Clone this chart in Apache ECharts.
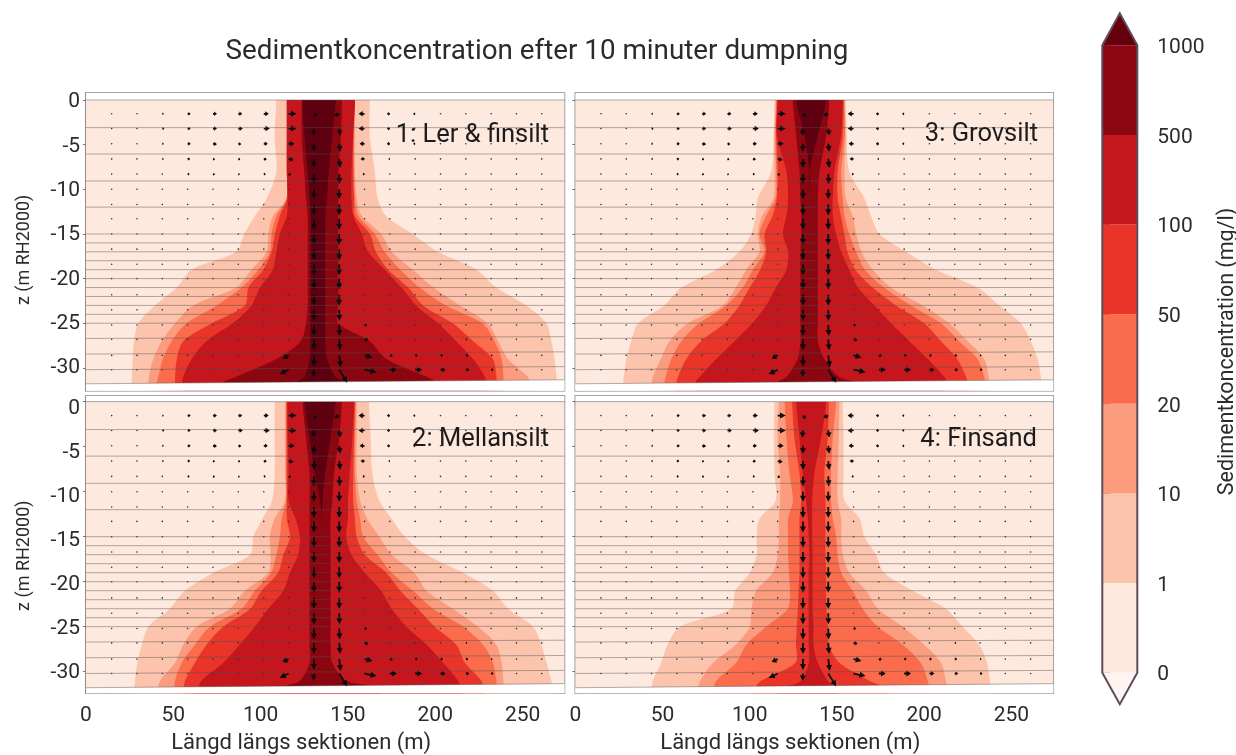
<!DOCTYPE html>
<html><head><meta charset="utf-8">
<style>html,body{margin:0;padding:0;background:#fff}#c{width:1236px;height:755px}</style>
<script src="https://cdn.jsdelivr.net/npm/echarts@6/dist/echarts.min.js"></script>
</head><body><div id="c"></div>
<script>
const titleText = 'Sedimentkoncentration efter 10 minuter dumpning';
const panelNames = ['1: Ler & finsilt','3: Grovsilt','2: Mellansilt','4: Finsand'];
const xTicks = [0,50,100,150,200,250];
const zTicks = [0,-5,-10,-15,-20,-25,-30];
const cbLabels = ['0','1','10','20','50','100','500','1000'];
const cbSteps = [0,1,2,3,4,5,6,7];
const cbColors = ['#fee9de','#fcc3ad','#fc9c7e','#fb6c4c','#e83429','#c4161c','#8a0711'];
const levelColors = ['#fcc3ad','#fc9c7e','#fb6c4c','#e83429','#c4161c','#8a0711','#5f0010'];
const domainColor = '#fee9de';
const underColor = '#fff5f0';
const overColor = '#67000d';
const rowZ = [0,-4,-8,-11,-13,-15,-17,-19,-21,-23,-25,-27,-29,-31,-32];

const left1 = [[109,115,115,115,115,123.5,124],[108,115,115,115,115,123.5,125],[109,115,115,115,115,125,127],[103.5,114.9,115,115,115.5,126,128],[96.7,107,109,111,115,127,128.5],[90.6,104.4,106.3,108.2,111,127,128.5],[86,103.4,105.3,106.3,109,127,128.5],[60.5,94.8,98.6,101.5,107,127,128.5],[52,86,89,93,99.6,127,128.5],[39.5,61.4,74.8,91,94.8,127,128.5],[30,51,57.6,72,84,126,128.5],[27.5,43.3,49,55.7,69,123,128.5],[26.7,38.5,44,52,60.5,109,128],[26.3,36,41.4,51,55.7,86,125],[26,35.7,40,51,55,76,118]];
const right1 = [[162.5,154,154,154,154,146.5,143],[162.5,154,153.5,153,153,146,141],[165.4,154,153.5,153,152,144.5,139],[167,155,154,153.5,152,144.4,138],[172,158,156,154,153,144.4,137],[187,169,165.4,162.6,158,144.4,137],[201.6,175,171,166,161.6,144.4,137],[223.6,187,180,173,171,144.4,137],[235,199,191,184.5,180.6,144.4,137],[252,214,206,193,189,144.4,137],[263.6,230,227,210,201.6,144.4,137],[266.5,236,234,221.7,212,162.5,137],[268.4,241.7,238,233,221.7,172,138],[269.4,253,239,235,228.4,195,143],[270,254.5,239.3,235.4,229.3,202.6,150]];
const left3 = [[114.2,114.8,115.2,115.6,116,124.7,126.6],[113.6,114.2,114.6,115.2,115.5,126.6,131.4],[112.3,114.2,115.2,116,121,128.5,134.2],[104.6,113.6,114.8,115.5,122,129,134.2],[103.3,107,109.4,113,121,129.5,134.2],[100.8,104.6,105.6,108.5,119,129.5,134.2],[94,105.6,108.5,109.4,122,129,134.2],[80.8,98,101.8,106,121,129,134.2],[60.8,92,96,100,115,129,134.2],[51,84.6,86.5,94,109.4,129,134.2],[36,64.6,71,85.6,101.4,129,134.2],[32,54,60.8,72,91.3,129,134.2],[29.3,49,55,63.6,80.8,127.5,134.2],[27.8,44.5,51.8,58.9,71.3,121,134.2],[27.4,43.6,51,57.6,67.8,113.2,134.2]];
const right3 = [[155,154.6,154.2,153.8,153.3,145.6,143.8],[155.6,155,154.5,153.3,152.3,143.8,139],[157,154.3,152.4,150.4,148.5,140,134.2],[165.7,155,153.3,150.4,147.6,139,134.2],[169.5,159,154.3,152.3,147.6,139,134.2],[174.3,161,157,154.2,149.5,139,134.2],[189.6,164,161,156,152.4,139,134.2],[206.7,170.5,166,160.5,157,139,134.2],[230.6,181,177,170.5,162,139,134.2],[243,199,192.4,183.8,171.4,139,134.2],[255.4,214.4,209.6,200,181,139,134.2],[261,225,220,209.6,191.5,139,134.2],[265,234.4,230.6,219,202,142.8,134.2],[266.8,237,234.4,224,211.5,151,134.2],[267.4,237.6,235.4,225.4,213.4,164.7,134.2]];
const left2 = [[108,114,114.5,115,115.2,124,125],[108,114,114.5,115,115.5,126,128],[108,114,114.5,115,116,128,131],[106.5,114,114.5,115,116,128,134],[101,108,112,115,120,128,135],[95.8,105.3,111,116.8,122.5,128,135],[94,105.7,109,113,121.5,128,135],[73,104.4,106,110,116.8,128,135],[56.7,91,96.7,100.5,113,128,135],[48,82.4,89,94,104.4,128,135],[35.7,63.3,71,78.6,96.7,128,135],[32,55.7,62.4,69,88,128,135],[29.4,51,54.8,62.4,78.6,128,135],[28,42.4,51,56.7,66,122.5,135],[27.5,41.4,50.6,56,64.3,111,135]];
const right2 = [[162,155,154.5,154,153.5,146.5,143],[163,155,154,153.5,152.5,145,140],[164,155,154,153,151,142,137],[168,157,155,153,150,141,135.5],[175,161,157,154,150,140,135],[182.6,168,158.7,155,149,140,135],[195,175,167,159.7,152,140,135],[216,188,175,172,159.7,140,135],[233,195,187.3,180,169,140,135],[241.7,210,198.8,190,175,140,135],[256,224.5,216,199.7,183.5,140,135],[260.8,235,227.4,212,195,140,135],[263.7,238,233,217,204.5,141,135],[266.5,239,235,226.4,213,149,135],[267.5,239.2,235.4,227.8,215,168,135]];
const left4 = [[114.2,116.7,120,124.3,126.6],[113.8,116,121,125.6,128.5],[114.2,117.4,122.8,128.5,130.4],[114.8,117.4,124.7,129.5,132.3],[105.6,116.7,122,128.5,133.3],[104,116.7,122,128.5,133.8],[104,116,122,128.5,134.2],[100,113.2,122.5,128.5,133.8],[91.7,103.7,123,128,133.8],[89.4,101,121.8,127.6,133.8],[60,100,109.4,127,133.8],[52.8,92,98,126.5,133.8],[49.3,79,92.2,126.2,133.8],[44.5,71.6,80.8,106.6,129.4],[43.6,70.3,79.3,102.7,119]];
const right4 = [[153.3,151.4,149.5,145.3,143.8],[153.7,151,147.6,144.7,140.9],[153.7,150.4,146.6,142.8,137],[154.3,150.4,146.6,143.4,135.8],[163,152.4,147.6,143.4,135.8],[165.7,152.4,149.5,143.4,135.8],[172.4,153.3,150.4,143.4,136],[177,157,152.4,143.8,136],[193.4,166.7,159,143.8,136],[212.4,173.4,164.7,144,136],[222,187.7,173.4,144.7,136.5],[231.5,200,187.7,145.3,136.5],[236,209.6,198,151.4,139],[237.6,212.4,202,168.6,144.7],[238,213.4,203,178,149.5]];

const layerZLeft  = [0,-3.1,-6.05,-9.07,-12,-15,-16,-17,-18,-19,-20,-21,-22,-23,-24,-25,-26.7,-28.45,-30.2,-31.78];
const layerZRight = [0,-3.1,-6.05,-9.07,-12,-15,-16,-17,-18,-19,-20,-21,-22,-23,-24,-24.95,-26.5,-28.2,-29.85,-31.33];
const flowX = [14.7,29.2,43.7,58.2,72.7,87.2,101.8,116,130.5,145,159.5,174,188.5,203,217.5,232,246.5,261];
const flowZ = [-1.55,-3.2,-4.9,-6.6,-8.3,-10,-11.7,-13.3,-15,-16.7,-18.4,-20,-21.8,-23.5,-25.2,-26.8,-28.6,-30.2];
const flowU = [
[.5,.7,1.5,3,4,4,5,8,3,-5,-6,-3,-2,-1,-.5,-.5,-.5,-.5],
[.5,1,2,3,4,4.5,6,8,-.5,1,-6,-3,-2,-1,-.5,-.5,-.5,-.5],
[.5,1,1.5,3,4,3,4,6,0,1,-5,-3,-2,-1,-.5,-.5,-.5,-.5],
[.5,1,1.5,2.5,2,2,3,5,0,1,-4,-1.5,-1,-.7,-.5,-.5,-.5,-.5],
[.8,.5,1,2,2,1.5,2,2.5,0,.5,-2,-1,-1,-.5,-.5,-.5,-.5,-.5],
[.8,.8,.5,1,1,1,1,.8,0,0,-1,-.8,-.8,-.8,-.8,-.8,-.8,-.8],
[.8,.8,.8,.5,.5,.5,.8,.8,0,0,-.8,-.8,-.8,-.8,-.8,-.8,-.8,-.8],
[.8,.8,.8,.8,.8,.5,.8,.8,0,0,.8,.8,.8,.8,.8,.8,.8,.8],
[.8,.8,.8,.8,.8,.8,.8,.8,0,0,.8,.8,.8,.8,.8,.8,.8,.8],
[.8,.8,.8,.8,.8,.8,.8,.8,0,0,.8,.8,.8,.8,.8,.8,.8,.8],
[.8,.8,.8,.8,.8,.8,.8,.8,0,0,.8,.8,.8,.8,.8,.8,.8,.8],
[.8,.8,.8,.8,.8,.8,.8,.8,0,0,.8,.8,.8,.8,.8,.8,.8,.8],
[.8,.8,.8,.8,.8,.8,.8,.8,0,0,.8,.8,.8,.8,.8,.8,.8,.8],
[.8,.8,.8,.8,.8,.8,.8,.8,0,.2,.8,.8,.8,.8,.8,.8,.8,.8],
[.8,.8,.8,.8,.8,.8,.8,-.8,0,.5,2.5,.8,.8,1,1.2,1,.8,.8],
[.8,.8,.8,.8,.8,.8,.8,-1,0,.8,4,.8,1,1.2,1.5,1.2,.8,.8],
[.8,.8,.8,.8,.8,.8,.8,-6,0,1.5,8,3,2.5,2.5,2.5,1.5,1,.8],
[.8,.8,.8,.8,.8,.8,.8,-9,-.5,8,12,7,7,5,3.5,2.5,1,.8]];
const flowV = [
[0,0,0,0,0,0,0,0,-3,-2,0,0,0,0,0,0,0,0],
[0,0,0,0,0,0,0,0,-7,-7,0,0,0,0,0,0,0,0],
[0,0,0,0,-.5,-.5,0,0,-8,-8,0,0,0,0,0,0,0,0],
[0,0,0,0,-.5,-.5,-.5,-1,-9,-9,0,0,0,0,0,0,0,0],
[0,0,0,0,-.5,-.5,0,-1,-10,-10,0,0,0,0,0,0,0,0],
[0,0,0,0,0,0,0,0,-10,-10,0,0,0,0,0,0,0,0],
[0,0,0,0,0,0,0,0,-11,-11,0,0,0,0,0,0,0,0],
[0,0,0,0,0,0,0,0,-11,-11,0,0,0,0,0,0,0,0],
[0,0,0,0,0,0,0,0,-11,-11,0,0,0,0,0,0,0,0],
[0,0,0,0,0,0,0,0,-11,-11,0,0,0,0,0,0,0,0],
[0,0,0,0,0,0,0,0,-11,-11,0,0,0,0,0,0,0,0],
[0,0,0,0,0,0,0,0,-11,-11,0,0,0,0,0,0,0,0],
[0,0,0,0,0,0,0,0,-11,-11,0,0,0,0,0,0,0,0],
[0,0,0,0,0,0,0,0,-11,-11,0,0,0,0,0,0,0,0],
[0,0,0,0,0,0,0,0,-11,-11,0,0,0,0,0,0,0,0],
[0,0,0,0,0,0,0,.5,-11,-11,-1,0,0,0,0,0,0,0],
[0,0,0,0,0,0,0,-3,-11,-12,-2,-.5,0,0,0,0,0,0],
[0,0,0,0,0,0,0,-4.5,-7,-13,-2.5,0,0,0,0,0,0,0]];

const panels = [
  {left:left1,right:right1,grid:{left:86,top:93,width:478.5,height:297.7},zMax:.78,zMin:-32.55,labelMax:1.01,labelMin:-32.55,showY:true,showX:false},
  {left:left3,right:right3,grid:{left:575.3,top:93,width:478,height:297.7},zMax:.78,zMin:-32.55,showY:false,showX:false},
  {left:left2,right:right2,grid:{left:86,top:396,width:478.5,height:297.3},zMax:.63,zMin:-32.4,labelMax:1.42,labelMin:-32.3,showY:true,showX:true},
  {left:left4,right:right4,grid:{left:575.3,top:396,width:478,height:297.3},zMax:.63,zMin:-32.4,showY:false,showX:true}
];
const xMax = 274;
const textCol = '#2b2b2b', frameCol = '#85858c', font = 'Roboto';
const polySeries = (g, pts, color, smooth) => ({
  type:'custom', xAxisIndex:g, yAxisIndex:g, clip:true, silent:true, data:pts, animation:false,
  encode:{x:0,y:1},
  renderItem:(p,api)=> p.dataIndex ? null : ({type:'polygon',shape:{points:pts.map(q=>api.coord(q)),smooth:smooth||0},style:{fill:color}})
});

const grids=[], xAxes=[], yAxes=[], series=[];
panels.forEach((pn,g)=>{
  grids.push({show:true,left:pn.grid.left,top:pn.grid.top,width:pn.grid.width,height:pn.grid.height,outerBoundsMode:'none',backgroundColor:'#fff',borderColor:frameCol,borderWidth:1.5});
  xAxes.push({gridIndex:g,type:'value',min:0,max:xMax,splitLine:{show:false},
    axisLine:{show:true,lineStyle:{color:frameCol,width:1.5}},
    axisTick:{show:pn.showX,length:4,customValues:xTicks,lineStyle:{color:'#555'}},
    axisLabel:{show:pn.showX,customValues:xTicks,color:textCol,fontFamily:font,fontSize:21,margin:12},
    name:pn.showX?'Längd längs sektionen (m)':'',nameLocation:'middle',nameGap:39,nameTextStyle:{color:textCol,fontFamily:font,fontSize:22,padding:[0,48,0,0]}});
  yAxes.push({gridIndex:g,type:'value',min:pn.zMin,max:pn.zMax,splitLine:{show:false},
    axisLine:{show:true,onZero:false,lineStyle:{color:frameCol,width:1.5}},
    axisTick:{show:true,length:3,customValues:zTicks,lineStyle:{color:'#777'}},
    axisLabel:{show:false,customValues:zTicks}});
  const domain=[[0,0],[xMax,0],[xMax,-33],[0,-33]];
  series.push(polySeries(g,domain,domainColor));
  const nL=pn.left[0].length;
  for(let l=0;l<nL;l++){
    const last=rowZ.length-1, pts=[[pn.left[0][l],4]];
    rowZ.forEach((z,i)=>pts.push([pn.left[i][l],z]));
    pts.push([pn.left[last][l],-36],[pn.right[last][l],-36]);
    for(let i=last;i>=0;i--)pts.push([pn.right[i][l],rowZ[i]]);
    pts.push([pn.right[0][l],4]);
    series.push(polySeries(g,pts,levelColors[l],0.3));
  }
  const n=layerZLeft.length-1;
  series.push(polySeries(g,[[0,layerZLeft[n]],[xMax,layerZRight[n]],[xMax,-34],[0,-34]],'#fff'));
  series.push(polySeries(g,[[0,0],[xMax,0],[xMax,3],[0,3]],'#fff'));
  layerZLeft.forEach((zl,i)=>series.push({type:'line',xAxisIndex:g,yAxisIndex:g,silent:true,animation:false,showSymbol:false,
    data:[[0,zl],[xMax,layerZRight[i]]],lineStyle:{color:'rgba(80,80,80,.45)',width:1}}));
  const arrows=[];
  flowZ.forEach((z,r)=>flowX.forEach((x,c)=>arrows.push([x,z,flowU[r][c],flowV[r][c]])));
  series.push({type:'custom',xAxisIndex:g,yAxisIndex:g,silent:true,animation:false,clip:true,data:arrows,encode:{x:0,y:1},
    renderItem:(p,api)=>{
      const b=api.coord([api.value(0),api.value(1)]),u=api.value(2),v=api.value(3),m=Math.hypot(u,v);
      if(m<1.3) return {type:'circle',shape:{cx:b[0],cy:b[1],r:.8},style:{fill:'#333'}};
      const ux=u/m,uy=-v/m,nx=-uy,ny=ux,hl=Math.min(m*.7,6),hw=Math.min(1+m*.3,3),sw=.9,t=m-hl;
      const P=(a,s)=>[b[0]+ux*a+nx*s,b[1]+uy*a+ny*s];
      return {type:'polygon',shape:{points:[P(0,sw),P(t,sw),P(t,hw),P(m,0),P(t,-hw),P(t,-sw),P(0,-sw)]},style:{fill:'#0c0c0c'}};
    }});
});

// colour bar
const cb=4;
grids.push({left:1102.3,top:45.3,width:35,height:627.4,outerBoundsMode:'none'});
xAxes.push({gridIndex:cb,type:'value',min:0,max:1,show:false});
yAxes.push({gridIndex:cb,type:'value',min:0,max:7,position:'right',splitLine:{show:false},
  axisLine:{show:false},
  axisTick:{show:true,length:8,customValues:cbSteps,lineStyle:{color:'#5c4d58',width:1.5}},
  axisLabel:{show:false}});
const cbSeries=(pts,color,stroke)=>({type:'custom',xAxisIndex:cb,yAxisIndex:cb,clip:false,silent:true,animation:false,data:pts,encode:{x:0,y:1},
  renderItem:(p,api)=>p.dataIndex?null:({type:'polygon',shape:{points:pts.map(q=>api.coord(q))},style:stroke?{fill:'none',stroke:stroke,lineWidth:2}:{fill:color}})});
cbColors.forEach((c,i)=>series.push(cbSeries([[0,i],[1,i],[1,i+1],[0,i+1]],c)));
series.push(cbSeries([[0,7],[.5,7.357],[1,7]],overColor));
series.push(cbSeries([[0,0],[.5,-.352],[1,0]],underColor));
series.push(cbSeries([[0,0],[.5,-.352],[1,0],[1,7],[.5,7.357],[0,7]],null,'#5c4d58'));

// colour-bar labels on their own axis, sitting a little below the ticks as in the reference
const cbl=5;
grids.push({left:1102.3,top:47.8,width:35,height:627.4,outerBoundsMode:'none'});
xAxes.push({gridIndex:cbl,type:'value',min:0,max:1,show:false});
yAxes.push({gridIndex:cbl,type:'value',min:0,max:7,position:'right',splitLine:{show:false},
  axisLine:{show:false},axisTick:{show:false},
  axisLabel:{show:true,customValues:cbSteps,formatter:v=>cbLabels[v],color:textCol,fontFamily:font,fontSize:21,margin:20},
  name:'Sedimentkoncentration (mg/l)',nameLocation:'middle',nameRotate:90,nameGap:79,nameTextStyle:{color:textCol,fontFamily:font,fontSize:21.5,padding:[0,0,0,20]}});
series.push({type:'line',xAxisIndex:cbl,yAxisIndex:cbl,data:[],silent:true});

// label-only axes, positioned as the reference's tick labels are
panels.forEach((pn,g)=>{ if(!pn.showY) return;
  yAxes.push({gridIndex:g,type:'value',min:pn.labelMin,max:pn.labelMax,position:'left',splitLine:{show:false},
    axisLine:{show:false},axisTick:{show:false},
    axisLabel:{show:true,customValues:zTicks,color:textCol,fontFamily:font,fontSize:21,margin:6},
    name:'z (m RH2000)',nameLocation:'middle',nameGap:53,nameRotate:90,nameTextStyle:{color:textCol,fontFamily:font,fontSize:18,padding:[0,g?22:16,0,0]}});
  const ix=yAxes.length-1;
  series.push({type:'line',xAxisIndex:g,yAxisIndex:ix,data:[],silent:true});
});

const panelLabelPos=[[549,136],[1038,135],[549,440],[1037,440]];
const chart=echarts.init(document.getElementById('c'),null,{renderer:'canvas'});
chart.setOption({
  animation:false,backgroundColor:'#fff',
  title:{text:titleText,left:532,top:33,textAlign:'center',textStyle:{color:textCol,fontFamily:font,fontWeight:'normal',fontSize:27.8}},
  grid:grids,xAxis:xAxes,yAxis:yAxes,series:series,
  graphic:panelNames.map((t,i)=>({type:'text',x:panelLabelPos[i][0],y:panelLabelPos[i][1],z:100,
    style:{text:t,fill:'#1c1c1c',font:'25.5px '+font,textAlign:'right',textVerticalAlign:'middle'}}))
});
</script></body></html>
